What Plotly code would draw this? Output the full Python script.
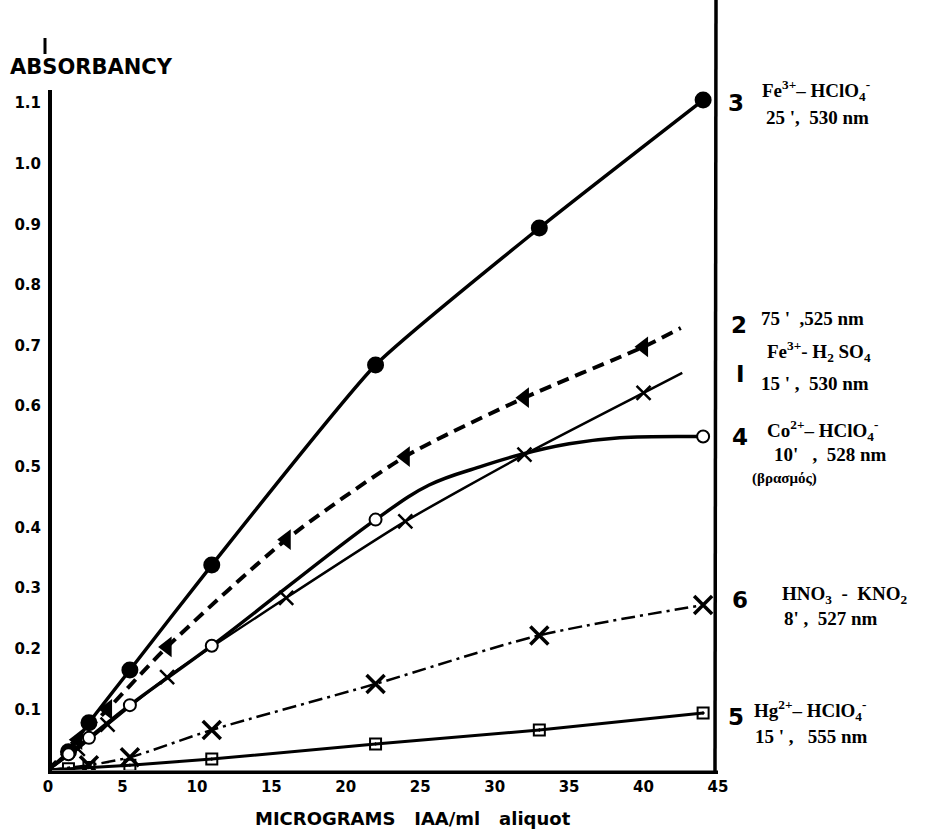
import plotly.graph_objects as go

# ---------------- data ----------------
# curve 3 : Fe3+ - HClO4  (filled circles, thick solid)
x3 = [0, 1.375, 2.75, 5.5, 11, 22, 33, 44]
y3 = [0, 0.030, 0.078, 0.165, 0.338, 0.668, 0.894, 1.105]

# curve 2 : Fe3+ - H2SO4, 75' (filled triangles, dashed)
x2 = [0, 2, 4, 8, 16, 24, 32, 40]
y2 = [0, 0.050, 0.100, 0.203, 0.380, 0.517, 0.614, 0.698]
x2_tail = [42.5]
y2_tail = [0.729]

# curve 1 : Fe3+ - H2SO4, 15' (crosses, thin solid)
x1 = [0, 2, 4, 8, 16, 24, 32, 40]
y1 = [0, 0.035, 0.075, 0.153, 0.284, 0.410, 0.520, 0.622]
x1_tail = [42.6]
y1_tail = [0.655]

# curve 4 : Co2+ - HClO4 (open circles, thick solid)
x4 = [0, 1.375, 2.75, 5.5, 11, 22, 44]
y4 = [0, 0.026, 0.053, 0.107, 0.205, 0.413, 0.550]
# drawn (fitted) line of curve 4 between 22 and 44
x4_line = [25.6, 29.0, 31.7, 35.0, 38.4]
y4_line = [0.470, 0.500, 0.520, 0.538, 0.548]

# curve 6 : HNO3 - KNO2 (crosses, dash-dot)
x6 = [0, 2.75, 5.5, 11, 22, 33, 44]
y6 = [0, 0.008, 0.021, 0.066, 0.142, 0.222, 0.272]

# curve 5 : Hg2+ - HClO4 (squares, solid)
x5 = [0, 1.375, 2.75, 5.5, 11, 22, 33, 44]
y5 = [0, 0.002, 0.004, 0.008, 0.018, 0.043, 0.066, 0.094]

x_ticks = [0, 5, 10, 15, 20, 25, 30, 35, 40, 45]
x_tick_text = ["0", "5", "10", "15", "20", "25", "30", "35", "40", "45"]
y_ticks = [0.1, 0.2, 0.3, 0.4, 0.5, 0.6, 0.7, 0.8, 0.9, 1.0, 1.1]
y_tick_text = ["0.1", "0.2", "0.3", "0.4", "0.5", "0.6", "0.7", "0.8", "0.9", "1.0", "1.1"]

# ---------------- layout geometry ----------------
W, H = 936, 834
L, R, T, B = 48, 218, 0, 64
PW, PH = W - L - R, H - T - B
YMAX = 1.27


def px(xp):
    return (xp - L) / PW


def py(yp):
    return (H - B - yp) / PH


fig = go.Figure()
K = "black"

# curve 3
fig.add_trace(go.Scatter(x=x3, y=y3, mode="lines", line=dict(color=K, width=3.5, shape="spline", smoothing=0.5), hoverinfo="skip"))
fig.add_trace(go.Scatter(x=x3[1:], y=y3[1:], mode="markers", marker=dict(symbol="circle", size=17, color=K)))

# curve 2
fig.add_trace(go.Scatter(x=x2 + x2_tail, y=y2 + y2_tail, mode="lines",
                         line=dict(color=K, width=4, dash="12px,7px", shape="spline", smoothing=0.7), hoverinfo="skip"))
fig.add_trace(go.Scatter(x=x2[1:], y=y2[1:], mode="markers", marker=dict(symbol="triangle-left", size=18, color=K)))

# curve 1
fig.add_trace(go.Scatter(x=x1 + x1_tail, y=y1 + y1_tail, mode="lines", line=dict(color=K, width=2.5, shape="spline", smoothing=0.6), hoverinfo="skip"))
fig.add_trace(go.Scatter(x=x1[1:], y=y1[1:], mode="markers", marker=dict(symbol="x-thin", size=14, line=dict(color=K, width=2.5))))

# curve 4
xl4 = x4[:-1] + x4_line + x4[-1:]
yl4 = y4[:-1] + y4_line + y4[-1:]
fig.add_trace(go.Scatter(x=xl4, y=yl4, mode="lines", line=dict(color=K, width=3.5, shape="spline", smoothing=1.1), hoverinfo="skip"))
fig.add_trace(go.Scatter(x=x4[1:], y=y4[1:], mode="markers",
                         marker=dict(symbol="circle", size=12, color="white", line=dict(color=K, width=2))))

# curve 6
fig.add_trace(go.Scatter(x=x6, y=y6, mode="lines", line=dict(color=K, width=2.5, dash="14px,5px,3px,5px", shape="spline", smoothing=0.8), hoverinfo="skip"))
fig.add_trace(go.Scatter(x=x6[1:], y=y6[1:], mode="markers", marker=dict(symbol="x-thin", size=18, line=dict(color=K, width=3.5))))

# curve 5
fig.add_trace(go.Scatter(x=x5, y=y5, mode="lines", line=dict(color=K, width=3), hoverinfo="skip"))
fig.add_trace(go.Scatter(x=x5[1:], y=y5[1:], mode="markers",
                         marker=dict(symbol="square-open-dot", size=11, color=K, line=dict(color=K, width=2))))

tick_font = dict(family="DejaVu Sans", size=15, color=K, weight="bold")

fig.update_xaxes(range=[0, 45], tickvals=x_ticks, ticktext=x_tick_text, showgrid=False, zeroline=False,
                 showline=False, ticks="", tickfont=tick_font, ticklabelstandoff=6)
fig.update_yaxes(range=[0, YMAX], tickvals=y_ticks, ticktext=y_tick_text, showgrid=False, zeroline=False,
                 showline=False, ticks="", tickfont=tick_font, ticklabelstandoff=6)

shapes = [
    # bottom axis
    dict(type="line", xref="paper", yref="paper", x0=0, x1=1, y0=-0.003, y1=-0.003, line=dict(color=K, width=3.5)),
    # left axis
    dict(type="line", xref="paper", yref="paper", x0=px(50), x1=px(50), y0=-0.005, y1=py(90), line=dict(color=K, width=4)),
    # piece of left axis above the label
    dict(type="line", xref="paper", yref="paper", x0=px(45), x1=px(45), y0=py(54), y1=py(38), line=dict(color=K, width=3)),
    # right frame
    dict(type="line", xref="paper", yref="paper", x0=px(715), x1=px(716), y0=-0.005, y1=1, line=dict(color=K, width=3.5)),
]

ann = []


def text(xp, yp, s, size=19, family="Liberation Serif", anchor="left", weight="bold"):
    ann.append(dict(xref="paper", yref="paper", x=px(xp), y=py(yp), text=s, showarrow=False,
                    xanchor=anchor, yanchor="middle",
                    font=dict(family=family, size=size, color=K, weight=weight)))


text(8, 67, "ABSORBANCY", size=21, family="DejaVu Sans")
text(413, 818, "MICROGRAMS   IAA/ml   aliquot", size=18, family="DejaVu Sans", anchor="center")

num = "DejaVu Sans"
text(726, 103, "3", size=23, family=num)
text(760, 90, "Fe<sup>3+</sup>– HClO<sub>4</sub><sup>-</sup>")
text(764, 117, "25 ',  530 nm")

text(729, 325, "2", size=23, family=num)
text(759, 318, "75 '  ,525 nm")
text(765, 351, "Fe<sup>3+</sup>- H<sub>2</sub> SO<sub>4</sub>")
text(734, 374, "I", size=23, family=num)
text(759, 383, "15 ' ,  530 nm")

text(730, 437, "4", size=23, family=num)
text(765, 430, "Co<sup>2+</sup>– HClO<sub>4</sub><sup>-</sup>")
text(772, 455, "10'   ,  528 nm")
text(750, 478, "(βρασμός)", size=15)

text(730, 600, "6", size=23, family=num)
text(780, 595, "HNO<sub>3</sub>  -  KNO<sub>2</sub>")
text(782, 618, "8' ,  527 nm")

text(726, 717, "5", size=23, family=num)
text(752, 710, "Hg<sup>2+</sup>– HClO<sub>4</sub><sup>-</sup>")
text(753, 736, "15 ' ,   555 nm")

fig.update_layout(width=W, height=H, margin=dict(l=L, r=R, t=T, b=B), plot_bgcolor="white", paper_bgcolor="white",
                  showlegend=False, shapes=shapes, annotations=ann)

fig.write_html("out.html")
